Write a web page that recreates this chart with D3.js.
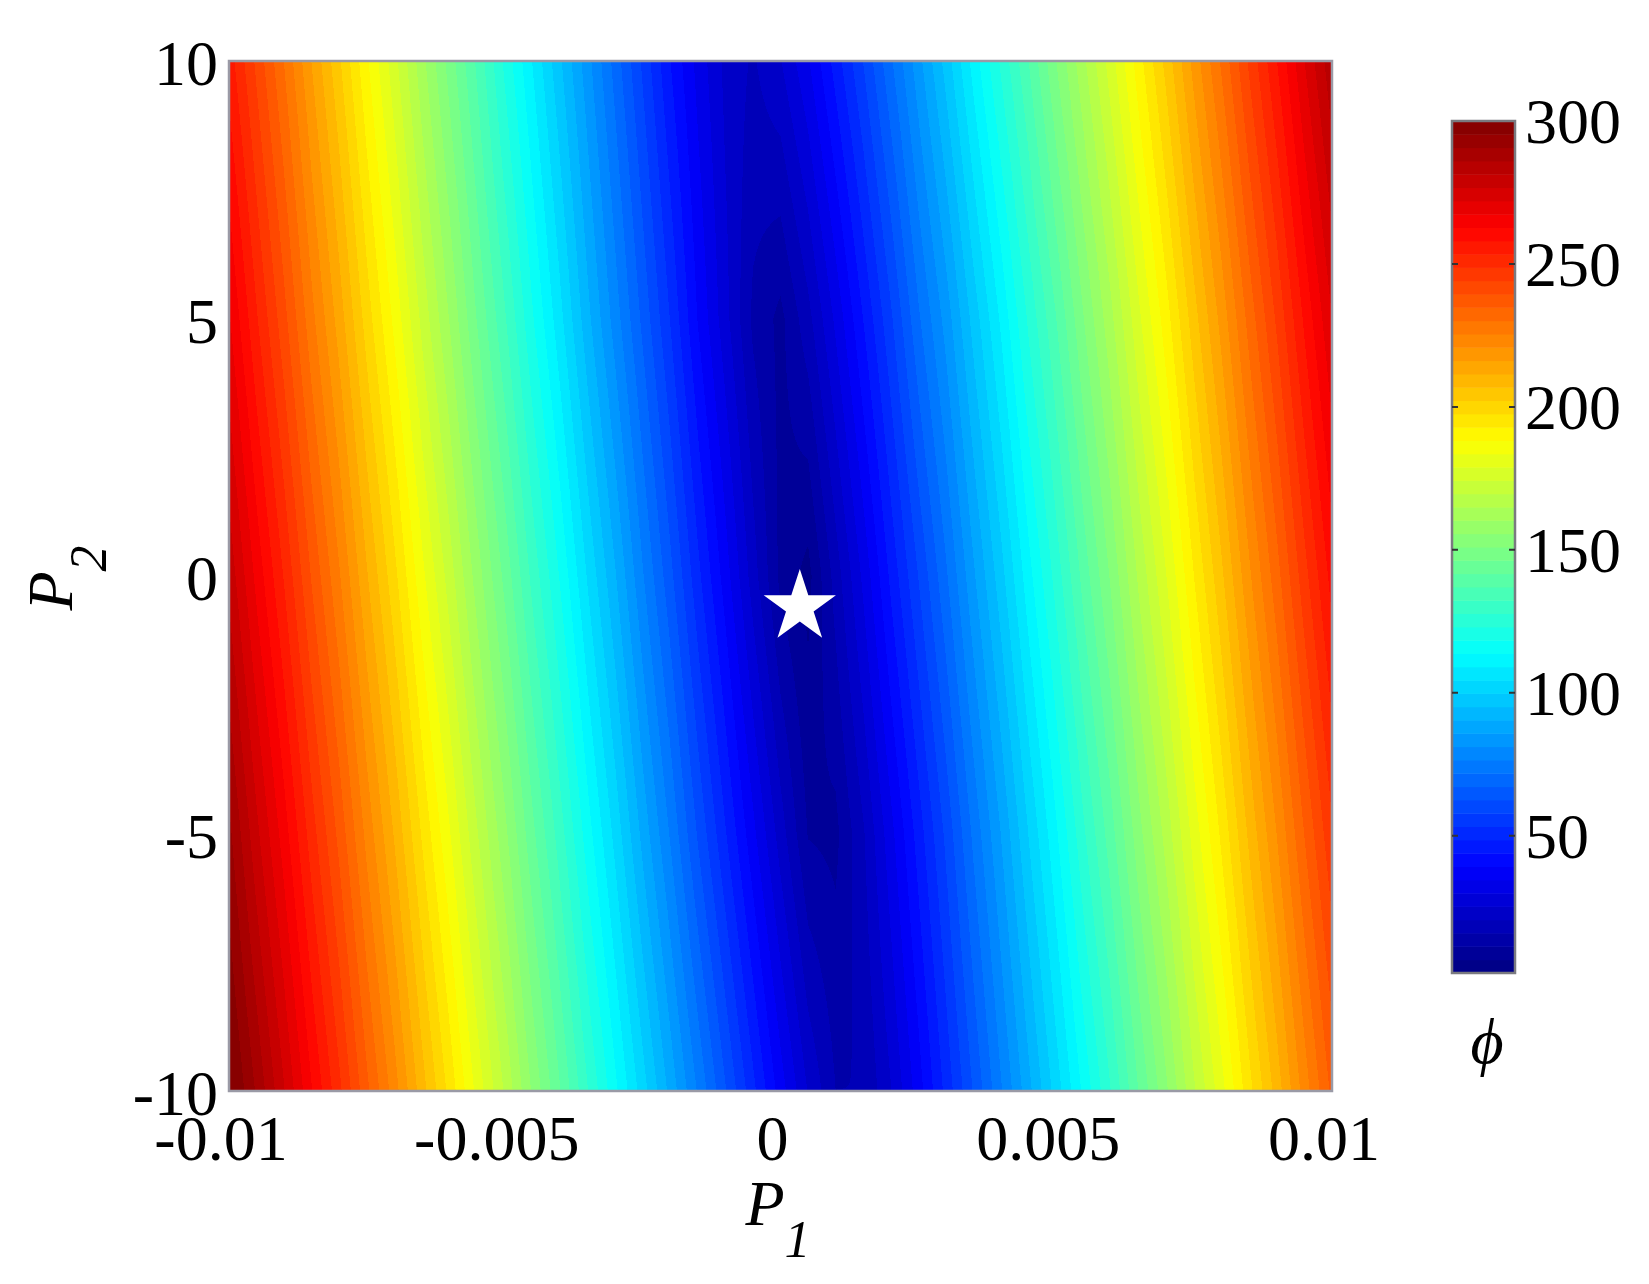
<!DOCTYPE html>
<html>
<head>
<meta charset="utf-8">
<script src="https://cdn.jsdelivr.net/npm/d3@7"></script>
<style>
  body { margin: 0; background: #fff; }
  text { font-family: "Liberation Serif", "Times New Roman", "DejaVu Serif", serif; fill: #000; }
</style>
</head>
<body>
<div id="chart"></div>
<script>
// grid of P1 sample positions (columns) and P2 rows
const p1Grid = [-0.01, -0.0095, -0.009, -0.0085, -0.008, -0.0075, -0.007, -0.0065, -0.006, -0.0055,
                -0.005, -0.0045, -0.004, -0.0035, -0.003, -0.0025, -0.002, -0.0015, -0.001, -0.0005,
                0, 0.0005, 0.001, 0.0015, 0.002, 0.0025, 0.003, 0.0035, 0.004, 0.0045,
                0.005, 0.0055, 0.006, 0.0065, 0.007, 0.0075, 0.008, 0.0085, 0.009, 0.0095, 0.01];
const p2Rows = [10, 5, 0, -5, -10];

// phi, one row per P2 value
const phiAtP2_10 = [256,243,230,216,203,189,176,162,149,136,122,109,96,83,70,57,44,33,24,20,
                    25,34,46,58,71,84,97,111,124,137,151,164,177,191,204,218,231,245,258,272,285];
const phiAtP2_5 = [268,254,241,227,214,200,187,173,160,146,133,119,106,92,79,66,53,39,27,15,
                   10,19,31,44,57,71,83,97,110,124,137,151,164,178,191,205,218,232,245,259,272];
const phiAtP2_0 = [280,266,253,239,226,212,199,185,172,158,145,131,118,104,91,77,64,50,37,23,
                   10,5,18,31,45,58,71,85,98,112,125,139,152,166,179,193,206,220,233,247,260];
const phiAtP2_m5 = [292,278,265,251,238,224,211,197,184,170,157,143,130,116,103,89,76,62,49,36,
                    23,11,10,20,33,46,59,73,86,100,113,127,140,154,167,181,194,208,221,235,248];
const phiAtP2_m10 = [302,290,277,263,250,236,223,209,196,182,169,155,142,128,115,102,89,76,63,50,
                     37,25,16,16,25,37,50,63,76,89,102,115,128,142,155,169,182,196,209,223,236];
const phiRows = [phiAtP2_10, phiAtP2_5, phiAtP2_0, phiAtP2_m5, phiAtP2_m10];

const xTicks = [-0.01, -0.005, 0, 0.005, 0.01];
const xTickLabels = ["-0.01", "-0.005", "0", "0.005", "0.01"];
const yTicks = [10, 5, 0, -5, -10];
const cbTicks = [50, 100, 150, 200, 250, 300];
const phiMin = 2, phiMax = 300;
const optimum = { p1: 0.00035, p2: -0.6 };

// jet colormap, 64 levels
const jetStops = [0, 0.125, 0.375, 0.625, 0.875, 1];
const jetColors = ["#000080", "#0000ff", "#00ffff", "#ffff00", "#ff0000", "#800000"];
const nLevels = 64;
const jet = d3.scaleLinear()
    .domain(jetStops.map(t => phiMin + t * (phiMax - phiMin)))
    .range(jetColors)
    .clamp(true);
const levels = d3.range(nLevels).map(k => {
  const lo = phiMin + k / nLevels * (phiMax - phiMin);
  const hi = phiMin + (k + 1) / nLevels * (phiMax - phiMin);
  return { lo, hi, color: d3.rgb(jet((lo + hi) / 2)) };
});
const levelOf = v => levels[Math.max(0, Math.min(nLevels - 1, Math.floor((v - phiMin) / (phiMax - phiMin) * nLevels)))];

const width = 1649, height = 1284;
const x = d3.scaleLinear().domain([-0.01, 0.01]).range([229, 1332]);
const y = d3.scaleLinear().domain([-10, 10]).range([1091, 61]);
const cb = d3.scaleLinear().domain([phiMin, phiMax]).range([973, 121]);

const svg = d3.select("#chart").append("svg")
    .attr("width", width)
    .attr("height", height)
    .style("display", "block");
svg.append("rect").attr("width", width).attr("height", height).attr("fill", "#fff");

// heatmap (shading interp) into a canvas
const [x0, x1] = x.range(), [y1, y0] = y.range();
const w = x1 - x0, h = y1 - y0;
const colIdx = d3.scaleLinear().domain([p1Grid[0], p1Grid[p1Grid.length - 1]]).range([0, p1Grid.length - 1]).clamp(true);
const rowIdx = d3.scaleLinear().domain([p2Rows[0], p2Rows[p2Rows.length - 1]]).range([0, p2Rows.length - 1]).clamp(true);

const canvas = document.createElement("canvas");
canvas.width = w; canvas.height = h;
const ctx = canvas.getContext("2d");
const img = ctx.createImageData(w, h);
for (let py = 0; py < h; py++) {
  const r = rowIdx(y.invert(y0 + py + 0.5));
  const r0 = Math.min(Math.floor(r), p2Rows.length - 2), fr = r - r0;
  for (let px = 0; px < w; px++) {
    const c = colIdx(x.invert(x0 + px + 0.5));
    const c0 = Math.min(Math.floor(c), p1Grid.length - 2), fc = c - c0;
    const a = phiRows[r0][c0] * (1 - fc) + phiRows[r0][c0 + 1] * fc;
    const b = phiRows[r0 + 1][c0] * (1 - fc) + phiRows[r0 + 1][c0 + 1] * fc;
    const col = levelOf(a * (1 - fr) + b * fr).color;
    const i = (py * w + px) * 4;
    img.data[i] = col.r; img.data[i + 1] = col.g; img.data[i + 2] = col.b; img.data[i + 3] = 255;
  }
}
ctx.putImageData(img, 0, 0);

svg.append("image")
    .attr("x", x0).attr("y", y0)
    .attr("width", w).attr("height", h)
    .attr("preserveAspectRatio", "none")
    .attr("href", canvas.toDataURL());

svg.append("rect")
    .attr("x", x0).attr("y", y0)
    .attr("width", w).attr("height", h)
    .attr("fill", "none")
    .attr("stroke", "#9a9aa6")
    .attr("stroke-width", 2.5);

// optimum marker
svg.append("path")
    .attr("d", d3.symbol(d3.symbolStar, 1620)())
    .attr("transform", `translate(${x(optimum.p1)},${y(optimum.p2)})`)
    .attr("fill", "#fff");

// tick labels
svg.append("g").selectAll("text")
  .data(xTicks)
  .join("text")
    .attr("x", d => x(d) - 8)
    .attr("y", 1160)
    .attr("text-anchor", "middle")
    .style("font-size", "64px")
    .text((d, i) => xTickLabels[i]);

svg.append("g").selectAll("text")
  .data(yTicks)
  .join("text")
    .attr("x", 218)
    .attr("y", d => y(d) + 24)
    .attr("text-anchor", "end")
    .style("font-size", "64px")
    .text(d => d);

// axis labels
const xl = svg.append("text")
    .attr("x", 778).attr("y", 1225)
    .attr("text-anchor", "middle")
    .style("font-size", "64px")
    .style("font-style", "italic");
xl.append("tspan").text("P");
xl.append("tspan").attr("dy", 32).style("font-size", "52px").text("1");

const yl = svg.append("text")
    .attr("transform", "translate(72,578) rotate(-90)")
    .attr("text-anchor", "middle")
    .style("font-size", "64px")
    .style("font-style", "italic");
yl.append("tspan").text("P");
yl.append("tspan").attr("dy", 34).style("font-size", "52px").text("2");

// colorbar
const cbX = 1452, cbW = 63;
svg.append("g").selectAll("rect")
  .data(levels)
  .join("rect")
    .attr("x", cbX)
    .attr("y", d => cb(d.hi))
    .attr("width", cbW)
    .attr("height", d => cb(d.lo) - cb(d.hi) + 0.5)
    .attr("fill", d => d.color);

svg.append("rect")
    .attr("x", cbX).attr("y", cb(phiMax))
    .attr("width", cbW).attr("height", cb(phiMin) - cb(phiMax))
    .attr("fill", "none")
    .attr("stroke", "#7a7a80")
    .attr("stroke-width", 2.5);

const cbTick = svg.append("g").selectAll("g")
  .data(cbTicks)
  .join("g")
    .attr("transform", d => `translate(0,${cb(d)})`);
cbTick.filter(d => d < phiMax).append("path")
    .attr("d", `M${cbX},0h6M${cbX + cbW},0h-6`)
    .attr("stroke", "#333")
    .attr("stroke-width", 2);
cbTick.append("text")
    .attr("x", 1525)
    .attr("y", 22)
    .style("font-size", "64px")
    .text(d => d);

svg.append("text")
    .attr("x", 1487).attr("y", 1063)
    .attr("text-anchor", "middle")
    .style("font-size", "64px")
    .style("font-style", "italic")
    .text("ϕ");
</script>
</body>
</html>
